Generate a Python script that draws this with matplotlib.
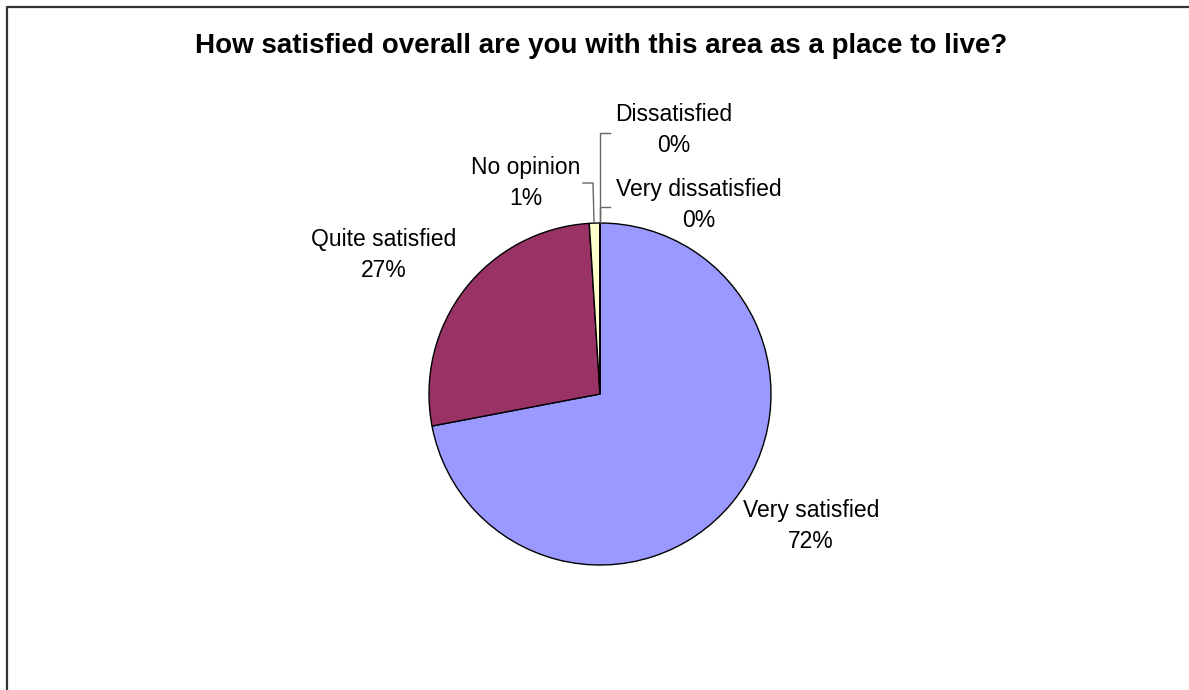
import matplotlib
matplotlib.use("Agg")
import matplotlib.pyplot as plt

W, H = 1189, 690

categories = ["Very satisfied", "Quite satisfied", "No opinion", "Dissatisfied", "Very dissatisfied"]
values = [72, 27, 1, 0, 0]
colors = ["#9999FF", "#993366", "#FFFFCC", "#000080", "#FF00FF"]
pct_labels = ["72%", "27%", "1%", "0%", "0%"]

# label centres (pixels from top-left)
label_pos = [(811, 526), (384, 255), (526, 183), (674, 130), (699, 205)]

plt.rcParams['font.family'] = ['Liberation Sans', 'DejaVu Sans']

fig = plt.figure(figsize=(W / 100, H / 100), dpi=100)
ax = fig.add_axes([0, 0, 1, 1])

def py(y):
    return H - y

# chart border (only top and left visible)
ax.plot([6.5, 6.5, W + 5], [-5, py(6.5), py(6.5)], color="#333333", lw=1.6, solid_capstyle='butt')

cx, cy, r = 600, 394, 171
ax.pie(values, colors=colors, startangle=90, counterclock=False,
       center=(cx, py(cy)), radius=r, frame=True,
       wedgeprops=dict(edgecolor="black", linewidth=1.0))
ax.set_xlim(0, W)
ax.set_ylim(0, H)
ax.set_aspect('equal')
ax.axis('off')

for name, pct, (x, y) in zip(categories, pct_labels, label_pos):
    ax.text(x, py(y), name + "\n" + pct, ha="center", va="center",
            fontsize=16.5, linespacing=1.4)

# leader lines for small slices
lc = "#666666"
ax.plot([583, 593, 594], [py(183), py(183), py(222)], color=lc, lw=1)
ax.plot([610, 600, 600], [py(133), py(133), py(222)], color=lc, lw=1)
ax.plot([610, 600, 600], [py(207), py(207), py(222)], color=lc, lw=1)

ax.text(601, py(46), "How satisfied overall are you with this area as a place to live?",
        ha="center", va="center", fontsize=20, fontweight="bold")

fig.savefig("out.png", dpi=100)
